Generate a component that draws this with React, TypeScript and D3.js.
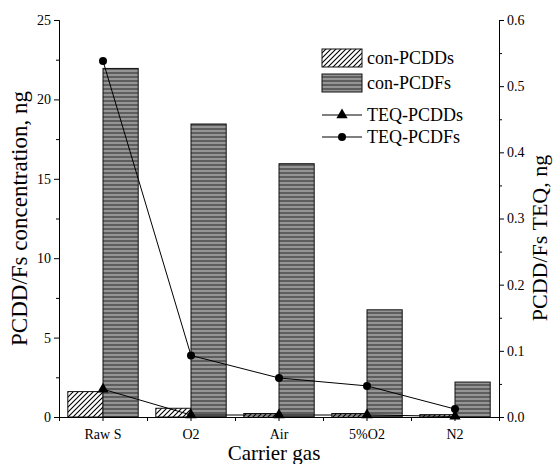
import React, { useEffect, useRef } from 'react'
import * as d3 from 'd3'

// data
const categories = ['Raw S', 'O2', 'Air', '5%O2', 'N2']
const conPCDDs = [1.6, 0.55, 0.22, 0.22, 0.15]
const conPCDFs = [21.95, 18.45, 15.95, 6.75, 2.2]
const teqPCDDs = [0.042, 0.003, 0.003, 0.003, 0.001]
const teqPCDFs = [0.538, 0.093, 0.059, 0.047, 0.012]
const leftTicks = [0, 5, 10, 15, 20, 25]
const rightTicks = [0, 0.1, 0.2, 0.3, 0.4, 0.5, 0.6]

const W = 554
const H = 464
const FONT = "'Liberation Serif', 'DejaVu Serif', 'Times New Roman', serif"

const App = () => {
  const svgRef = useRef<SVGSVGElement>(null)

  useEffect(() => {
    const svg = d3.select(svgRef.current)
    svg.selectAll('*').remove()

    const left = 59, right = 499, top = 20, bottom = 417

    const x = d3.scaleBand().domain(categories).range([left, right]).paddingInner(0).paddingOuter(0)
    const yL = d3.scaleLinear().domain([0, 25]).range([bottom, top])
    const yR = d3.scaleLinear().domain([0, 0.6]).range([bottom, top])
    const barW = x.bandwidth() * 0.4
    const cx = (c: string) => (x(c) as number) + x.bandwidth() / 2

    // patterns
    const defs = svg.append('defs')
    const hatch = defs.append('pattern')
      .attr('id', 'hatch').attr('patternUnits', 'userSpaceOnUse')
      .attr('width', 5).attr('height', 5)
    hatch.append('rect').attr('width', 5).attr('height', 5).attr('fill', '#fff')
    hatch.append('path').attr('d', 'M-1,6 L6,-1 M-1,1 L1,-1 M4,6 L6,4')
      .attr('stroke', '#000').attr('stroke-width', 1.1)

    const stripes = defs.append('pattern')
      .attr('id', 'stripes').attr('patternUnits', 'userSpaceOnUse')
      .attr('width', 8).attr('height', 4)
    stripes.append('rect').attr('width', 8).attr('height', 4).attr('fill', '#5e5e5e')
    stripes.append('rect').attr('y', 2).attr('width', 8).attr('height', 2).attr('fill', '#959595')

    // bars
    svg.append('g').selectAll('rect')
      .data(categories)
      .join('rect')
      .attr('x', c => cx(c) - barW)
      .attr('y', (c, i) => yL(conPCDDs[i]))
      .attr('width', barW)
      .attr('height', (c, i) => bottom - yL(conPCDDs[i]))
      .attr('fill', 'url(#hatch)')
      .attr('stroke', '#111').attr('stroke-width', 1)

    svg.append('g').selectAll('rect')
      .data(categories)
      .join('rect')
      .attr('x', c => cx(c))
      .attr('y', (c, i) => yL(conPCDFs[i]))
      .attr('width', barW)
      .attr('height', (c, i) => bottom - yL(conPCDFs[i]))
      .attr('fill', 'url(#stripes)')
      .attr('stroke', '#111').attr('stroke-width', 1)

    // lines
    const lineR = d3.line<number>()
      .x((v, i) => cx(categories[i]))
      .y(v => yR(v))

    svg.append('path').attr('d', lineR(teqPCDDs))
      .attr('fill', 'none').attr('stroke', '#000').attr('stroke-width', 1)
    svg.append('path').attr('d', lineR(teqPCDFs))
      .attr('fill', 'none').attr('stroke', '#000').attr('stroke-width', 1)

    const tri = d3.symbol().type(d3.symbolTriangle).size(55)
    svg.append('g').selectAll('path')
      .data(teqPCDDs)
      .join('path')
      .attr('d', tri)
      .attr('transform', (v, i) => `translate(${cx(categories[i])},${yR(v)})`)
      .attr('fill', '#000')

    svg.append('g').selectAll('circle')
      .data(teqPCDFs)
      .join('circle')
      .attr('cx', (v, i) => cx(categories[i]))
      .attr('cy', v => yR(v))
      .attr('r', 4)
      .attr('fill', '#000')

    // axes
    const styleAxis = (g: any) => {
      g.attr('font-family', FONT)
      g.select('.domain').attr('stroke', '#000').attr('stroke-width', 1)
      g.selectAll('.tick line').attr('stroke', '#000')
      g.selectAll('.tick text').attr('font-family', FONT).attr('font-size', 14).attr('fill', '#000')
    }

    const leftMinor = d3.range(2.5, 25, 5)
    const rightMinor = d3.range(0.05, 0.6, 0.1)

    svg.append('g').attr('transform', `translate(${left},0)`)
      .call(d3.axisLeft(yL).tickValues(leftMinor).tickSize(3).tickFormat(() => ''))
      .call(styleAxis)
    svg.append('g').attr('transform', `translate(${left},0)`)
      .call(d3.axisLeft(yL).tickValues(leftTicks).tickSize(5).tickSizeOuter(0).tickPadding(3).tickFormat(d3.format('d')))
      .call(styleAxis)

    svg.append('g').attr('transform', `translate(${right},0)`)
      .call(d3.axisRight(yR).tickValues(rightMinor).tickSize(3).tickFormat(() => ''))
      .call(styleAxis)
    svg.append('g').attr('transform', `translate(${right},0)`)
      .call(d3.axisRight(yR).tickValues(rightTicks).tickSize(5).tickSizeOuter(0).tickPadding(3).tickFormat(d3.format('.1f')))
      .call(styleAxis)

    // bottom: ticks at centers and at band edges
    const edgeScale = d3.scaleLinear().domain([0, categories.length]).range([left, right])
    svg.append('g').attr('transform', `translate(0,${bottom})`)
      .call(d3.axisBottom(edgeScale).tickValues(d3.range(0, categories.length + 1)).tickSize(4).tickFormat(() => ''))
      .call(styleAxis)
    svg.append('g').attr('transform', `translate(0,${bottom})`)
      .call(d3.axisBottom(x).tickSize(4).tickSizeOuter(0).tickPadding(8))
      .call(styleAxis)

    // titles
    svg.append('text')
      .attr('transform', `translate(27,${(top + bottom) / 2}) rotate(-90)`)
      .attr('text-anchor', 'middle')
      .attr('font-family', FONT).attr('font-size', 23)
      .text('PCDD/Fs concentration, ng')

    svg.append('text')
      .attr('transform', `translate(547,238) rotate(-90)`)
      .attr('text-anchor', 'middle')
      .attr('font-family', FONT).attr('font-size', 22)
      .text('PCDD/Fs TEQ, ng')

    svg.append('text')
      .attr('x', 274).attr('y', 460)
      .attr('text-anchor', 'middle')
      .attr('font-family', FONT).attr('font-size', 21)
      .text('Carrier gas')

    // legend
    const lg = svg.append('g').attr('font-family', FONT).attr('font-size', 18)
    const lx = 322, lw = 40
    const items = [
      { label: 'con-PCDDs', kind: 'hatch', y: 58 },
      { label: 'con-PCDFs', kind: 'stripes', y: 83 },
      { label: 'TEQ-PCDDs', kind: 'tri', y: 115 },
      { label: 'TEQ-PCDFs', kind: 'dot', y: 137 },
    ]
    items.forEach(it => {
      if (it.kind === 'hatch' || it.kind === 'stripes') {
        lg.append('rect').attr('x', lx).attr('y', it.y - 9).attr('width', lw).attr('height', 18)
          .attr('fill', `url(#${it.kind})`).attr('stroke', '#111')
      } else {
        lg.append('line').attr('x1', lx).attr('x2', lx + lw).attr('y1', it.y).attr('y2', it.y)
          .attr('stroke', '#000')
        if (it.kind === 'tri') {
          lg.append('path').attr('d', tri).attr('transform', `translate(${lx + lw / 2},${it.y})`)
        } else {
          lg.append('circle').attr('cx', lx + lw / 2).attr('cy', it.y).attr('r', 4)
        }
      }
      lg.append('text').attr('x', lx + lw + 5).attr('y', it.y).attr('dy', '0.35em').text(it.label)
    })
  }, [])

  return (
    <svg ref={svgRef} width={W} height={H}
      style={{ position: 'absolute', left: 0, top: 0, background: '#fff' }} />
  )
}

export default App
